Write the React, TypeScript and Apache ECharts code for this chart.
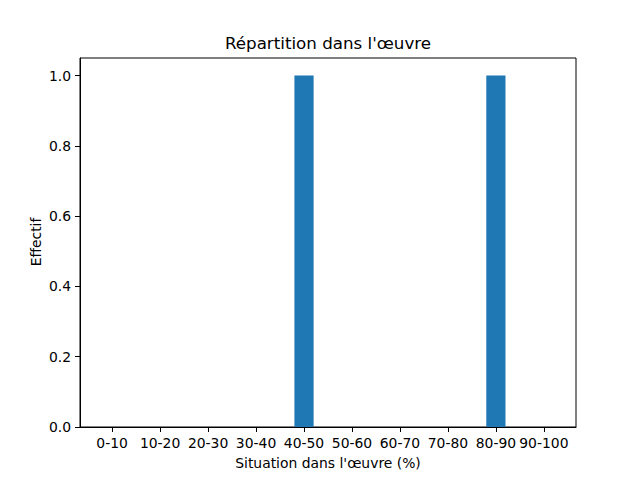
import React, { useEffect, useRef } from "react";
import * as echarts from "echarts";

const categories = ["0-10", "10-20", "20-30", "30-40", "40-50", "50-60", "60-70", "70-80", "80-90", "90-100"];
const counts = [0, 0, 0, 0, 1, 0, 0, 0, 1, 0];
const yTicks = [0, 0.2, 0.4, 0.6, 0.8, 1.0];
const titleText = "Répartition dans l'œuvre";
const xLabel = "Situation dans l'œuvre (%)";
const yLabel = "Effectif";

export default function App() {
  const ref = useRef<HTMLDivElement>(null);
  useEffect(() => {
    const chart = echarts.init(ref.current!, null, { renderer: "svg" });
    const font = "DejaVu Sans";
    const idx = categories.map((_, i) => i);
    chart.setOption({
      animation: false,
      textStyle: { fontFamily: font },
      grid: {
        left: 80, right: 64, top: 58, bottom: 53,
        show: true, borderColor: "#000", borderWidth: 1, backgroundColor: "#fff",
      },
      xAxis: {
        type: "value",
        min: -0.67, max: 9.67,
        splitLine: { show: false },
        axisLine: { show: true, onZero: false, lineStyle: { color: "#000", width: 1 } },
        axisTick: { show: true, length: 5, customValues: idx, lineStyle: { color: "#000" } },
        axisLabel: {
          customValues: idx,
          margin: 9,
          color: "#000", fontSize: 13.9, fontFamily: font,
          formatter: (v: number) => categories[Math.round(v)] ?? "",
        },
      },
      yAxis: {
        type: "value",
        min: 0, max: 1.05,
        splitLine: { show: false },
        axisLine: { show: true, onZero: false, lineStyle: { color: "#000", width: 1 } },
        axisTick: { show: true, length: 5, customValues: yTicks, lineStyle: { color: "#000" } },
        axisLabel: {
          customValues: yTicks,
          margin: 9,
          color: "#000", fontSize: 13.9, fontFamily: font,
          formatter: (v: number) => v.toFixed(1),
        },
      },
      series: [
        {
          type: "bar",
          barWidth: 19.2,
          itemStyle: { color: "#1f77b4" },
          data: counts.map((c, i) => [i, c]),
        },
      ],
      graphic: [
        {
          type: "text", x: 328, y: 43,
          style: { text: titleText, font: `16.7px '${font}'`, fill: "#000", align: "center", verticalAlign: "middle" },
        },
        {
          type: "text", x: 328, y: 463,
          style: { text: xLabel, font: `13.9px '${font}'`, fill: "#000", align: "center", verticalAlign: "middle" },
        },
        {
          type: "text", x: 36, y: 242, rotation: Math.PI / 2,
          style: { text: yLabel, font: `13.9px '${font}'`, fill: "#000", align: "center", verticalAlign: "middle" },
        },
      ],
    });
    return () => chart.dispose();
  }, []);
  return <div ref={ref} style={{ position: "fixed", left: 0, top: 0, width: 640, height: 480, background: "#fff" }} />;
}
